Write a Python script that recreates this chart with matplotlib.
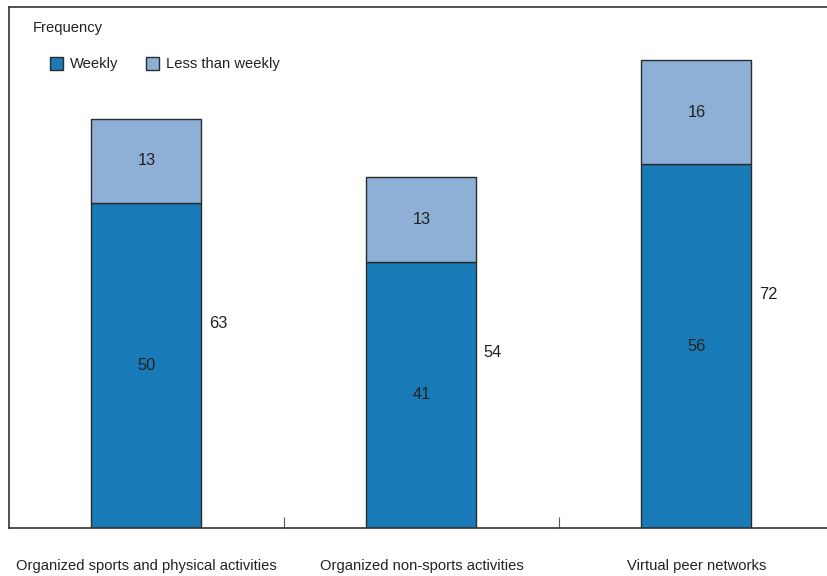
import matplotlib
matplotlib.use("Agg")
import matplotlib.pyplot as plt

categories = ["Organized sports and physical activities", "Organized non-sports activities", "Virtual peer networks"]
weekly = [50, 41, 56]
less_than_weekly = [13, 13, 16]
totals = [63, 54, 72]
series_names = ["Weekly", "Less than weekly"]
legend_title = "Frequency"

plt.rcParams['font.family'] = ["Liberation Sans", "DejaVu Sans"]
FS = 10.6
FN = 11.8
TC = '#222222'

W, H = 828, 576
fig = plt.figure(figsize=(W/100, H/100), dpi=100)
ax = fig.add_axes([9/W, 48/H, 825/W, 521/H])

c_week = "#187bb8"
c_less = "#8eb0d6"
edge = "#2b2b2b"
x = list(range(len(categories)))
b1 = ax.bar(x, weekly, width=0.4, color=c_week, edgecolor=edge, linewidth=1, label=series_names[0])
b2 = ax.bar(x, less_than_weekly, bottom=weekly, width=0.4, color=c_less, edgecolor=edge, linewidth=1, label=series_names[1])

for i in x:
    ax.text(i, weekly[i]/2, str(weekly[i]), ha='center', va='center', fontsize=FN, color=TC)
    ax.text(i, weekly[i] + less_than_weekly[i]/2, str(less_than_weekly[i]), ha='center', va='center', fontsize=FN, color=TC)
    ax.text(i + 0.26, totals[i]/2, str(totals[i]), ha='center', va='center', fontsize=FN, color=TC)

ax.set_xlim(-0.5, 2.5)
ax.set_ylim(0, 80.2)
ax.set_yticks([])
ax.set_xticks(x)
ax.set_xticklabels(categories, fontsize=FS, color=TC)
ax.tick_params(axis='x', length=0, pad=22)
ax.set_xticks([0.5, 1.5], minor=True)
ax.tick_params(axis='x', which='minor', direction='in', length=8, width=0.8, color='#555555')
for s in ['left', 'top', 'bottom']:
    ax.spines[s].set_color('#333333')
    ax.spines[s].set_linewidth(1.2)
ax.spines['right'].set_visible(False)

fig.text(33/W, 1 - 28/H, legend_title, ha='left', va='center', fontsize=FS, color=TC)
leg = fig.legend(handles=[b1, b2], labels=series_names, ncol=2, loc='center left',
                 bbox_to_anchor=(47/W, 1 - 64/H), frameon=False, fontsize=FS,
                 handlelength=0.9, handleheight=1.0, handletextpad=0.45, columnspacing=1.9,
                 borderaxespad=0, borderpad=0.2)
for t in leg.get_texts():
    t.set_color(TC)

fig.savefig("out.png", dpi=100)
